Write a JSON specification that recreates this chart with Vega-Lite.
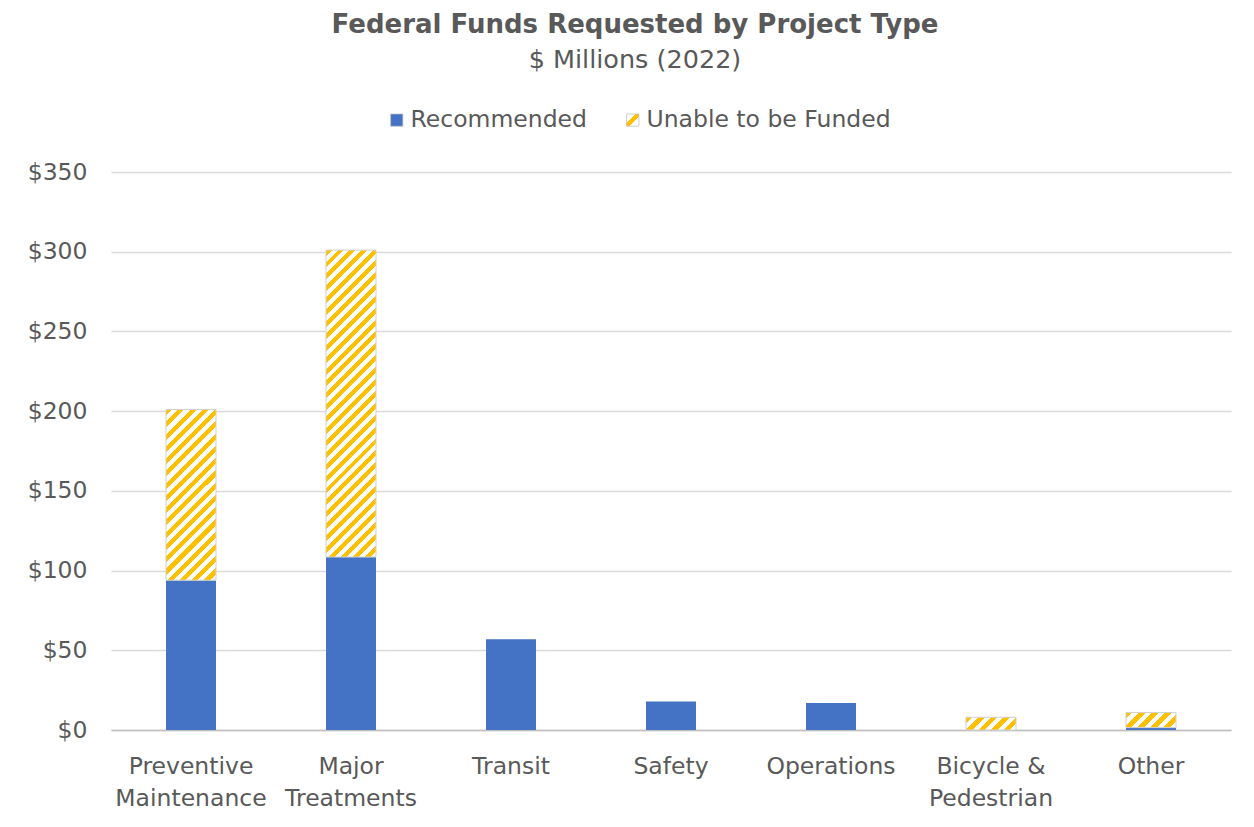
{
  "$schema": "https://vega.github.io/schema/vega-lite/v6.json",
  "width": 1120,
  "height": 558,
  "autosize": {"type": "none"},
  "padding": {"left": 111, "top": 172, "right": 23, "bottom": 97},
  "background": "white",
  "config": {"view": {"stroke": null}, "font": "DejaVu Sans"},
  "title": {
    "text": "Federal Funds Requested by Project Type",
    "subtitle": "$ Millions (2022)",
    "anchor": "middle",
    "frame": "group",
    "dx": -36,
    "offset": 35,
    "font": "DejaVu Sans",
    "fontSize": 26,
    "fontWeight": "bold",
    "color": "#595959",
    "subtitleFont": "DejaVu Sans",
    "subtitleFontSize": 25.5,
    "subtitleColor": "#595959",
    "subtitlePadding": 10
  },
  "data": {
    "values": [
      {"category": "Preventive Maintenance", "type": "Recommended", "value": 94},
      {"category": "Preventive Maintenance", "type": "Unable to be Funded", "value": 107},
      {"category": "Major Treatments", "type": "Recommended", "value": 108.5},
      {"category": "Major Treatments", "type": "Unable to be Funded", "value": 192.5},
      {"category": "Transit", "type": "Recommended", "value": 57},
      {"category": "Safety", "type": "Recommended", "value": 17.8},
      {"category": "Operations", "type": "Recommended", "value": 17},
      {"category": "Bicycle & Pedestrian", "type": "Unable to be Funded", "value": 8},
      {"category": "Other", "type": "Recommended", "value": 1.5},
      {"category": "Other", "type": "Unable to be Funded", "value": 9.5}
    ]
  },
  "transform": [
    {"stack": "value", "groupby": ["category"], "sort": [{"field": "type", "order": "ascending"}], "as": ["v0", "v1"]}
  ],
  "encoding": {
    "x": {
      "field": "category",
      "type": "nominal",
      "sort": ["Preventive Maintenance", "Major Treatments", "Transit", "Safety", "Operations", "Bicycle & Pedestrian", "Other"],
      "scale": {"paddingInner": 0.6875, "paddingOuter": 0.34375},
      "axis": {
        "title": null,
        "labelAngle": 0,
        "labelExpr": "datum.label == 'Preventive Maintenance' ? ['Preventive','Maintenance'] : datum.label == 'Major Treatments' ? ['Major','Treatments'] : datum.label == 'Bicycle & Pedestrian' ? ['Bicycle &','Pedestrian'] : datum.label",
        "labelFont": "DejaVu Sans",
        "labelFontSize": 23.5,
        "labelColor": "#595959",
        "labelPadding": 24,
        "labelLineHeight": 32,
        "labelOverlap": false,
        "labelLimit": 0,
        "ticks": false,
        "domainColor": "#BFBFBF",
        "domainWidth": 1.5
      }
    },
    "y": {
      "field": "v1",
      "type": "quantitative",
      "scale": {"domain": [0, 350], "nice": false},
      "axis": {
        "title": null,
        "values": [0, 50, 100, 150, 200, 250, 300, 350],
        "format": "$,.0f",
        "labelFont": "DejaVu Sans",
        "labelFontSize": 23.5,
        "labelColor": "#595959",
        "labelPadding": 24,
        "ticks": false,
        "domain": false,
        "gridColor": "#D9D9D9",
        "gridWidth": 1.5
      }
    },
    "y2": {"field": "v0"}
  },
  "layer": [
    {
      "mark": {"type": "bar"},
      "encoding": {
        "fill": {
          "field": "type",
          "type": "nominal",
          "scale": {
            "domain": ["Recommended", "Unable to be Funded"],
            "range": ["#4472C4", {"expr": "{gradient: 'linear', x1: 0, y1: 0, x2: 1, y2: 1, stops: [{offset: 0, color: '#FFFFFF'}, {offset: 0.38, color: '#FFFFFF'}, {offset: 0.38, color: '#FFC000'}, {offset: 0.62, color: '#FFC000'}, {offset: 0.62, color: '#FFFFFF'}, {offset: 1, color: '#FFFFFF'}]}"}]
          },
          "legend": {
            "orient": "none",
            "legendX": 274,
            "legendY": -64,
            "direction": "horizontal",
            "title": null,
            "symbolType": "square",
            "symbolSize": 150,
            "symbolStrokeColor": "#BFBFBF",
            "symbolStrokeWidth": 0.75,
            "labelFont": "DejaVu Sans",
            "labelFontSize": 23.5,
            "labelColor": "#595959",
            "labelOffset": 2,
            "labelLimit": 0,
            "columnPadding": 34
          }
        }
      }
    },
    {
      "transform": [{"filter": "datum.category == 'Preventive Maintenance' && datum.type == 'Unable to be Funded'"}],
      "mark": {"type": "bar", "stroke": "#D0D0D0", "strokeWidth": 1, "fill": {"gradient": "linear", "x1": 0, "y1": 0, "x2": 0.349, "y2": 1.191, "stops": [
        {"offset": 0, "color": "#FFC000"},
        {"offset": 0.0278, "color": "#FFC000"}, {"offset": 0.0278, "color": "#FFFFFF"},
        {"offset": 0.0556, "color": "#FFFFFF"}, {"offset": 0.0556, "color": "#FFC000"},
        {"offset": 0.0833, "color": "#FFC000"}, {"offset": 0.0833, "color": "#FFFFFF"},
        {"offset": 0.1111, "color": "#FFFFFF"}, {"offset": 0.1111, "color": "#FFC000"},
        {"offset": 0.1389, "color": "#FFC000"}, {"offset": 0.1389, "color": "#FFFFFF"},
        {"offset": 0.1667, "color": "#FFFFFF"}, {"offset": 0.1667, "color": "#FFC000"},
        {"offset": 0.1944, "color": "#FFC000"}, {"offset": 0.1944, "color": "#FFFFFF"},
        {"offset": 0.2222, "color": "#FFFFFF"}, {"offset": 0.2222, "color": "#FFC000"},
        {"offset": 0.25, "color": "#FFC000"}, {"offset": 0.25, "color": "#FFFFFF"},
        {"offset": 0.2778, "color": "#FFFFFF"}, {"offset": 0.2778, "color": "#FFC000"},
        {"offset": 0.3056, "color": "#FFC000"}, {"offset": 0.3056, "color": "#FFFFFF"},
        {"offset": 0.3333, "color": "#FFFFFF"}, {"offset": 0.3333, "color": "#FFC000"},
        {"offset": 0.3611, "color": "#FFC000"}, {"offset": 0.3611, "color": "#FFFFFF"},
        {"offset": 0.3889, "color": "#FFFFFF"}, {"offset": 0.3889, "color": "#FFC000"},
        {"offset": 0.4167, "color": "#FFC000"}, {"offset": 0.4167, "color": "#FFFFFF"},
        {"offset": 0.4444, "color": "#FFFFFF"}, {"offset": 0.4444, "color": "#FFC000"},
        {"offset": 0.4722, "color": "#FFC000"}, {"offset": 0.4722, "color": "#FFFFFF"},
        {"offset": 0.5, "color": "#FFFFFF"}, {"offset": 0.5, "color": "#FFC000"},
        {"offset": 0.5278, "color": "#FFC000"}, {"offset": 0.5278, "color": "#FFFFFF"},
        {"offset": 0.5556, "color": "#FFFFFF"}, {"offset": 0.5556, "color": "#FFC000"},
        {"offset": 0.5833, "color": "#FFC000"}, {"offset": 0.5833, "color": "#FFFFFF"},
        {"offset": 0.6111, "color": "#FFFFFF"}, {"offset": 0.6111, "color": "#FFC000"},
        {"offset": 0.6389, "color": "#FFC000"}, {"offset": 0.6389, "color": "#FFFFFF"},
        {"offset": 0.6667, "color": "#FFFFFF"}, {"offset": 0.6667, "color": "#FFC000"},
        {"offset": 0.6944, "color": "#FFC000"}, {"offset": 0.6944, "color": "#FFFFFF"},
        {"offset": 0.7222, "color": "#FFFFFF"}, {"offset": 0.7222, "color": "#FFC000"},
        {"offset": 0.75, "color": "#FFC000"}, {"offset": 0.75, "color": "#FFFFFF"},
        {"offset": 0.7778, "color": "#FFFFFF"}, {"offset": 0.7778, "color": "#FFC000"},
        {"offset": 0.8056, "color": "#FFC000"}, {"offset": 0.8056, "color": "#FFFFFF"},
        {"offset": 0.8333, "color": "#FFFFFF"}, {"offset": 0.8333, "color": "#FFC000"},
        {"offset": 0.8611, "color": "#FFC000"}, {"offset": 0.8611, "color": "#FFFFFF"},
        {"offset": 0.8889, "color": "#FFFFFF"}, {"offset": 0.8889, "color": "#FFC000"},
        {"offset": 0.9167, "color": "#FFC000"}, {"offset": 0.9167, "color": "#FFFFFF"},
        {"offset": 0.9444, "color": "#FFFFFF"}, {"offset": 0.9444, "color": "#FFC000"},
        {"offset": 0.9722, "color": "#FFC000"}, {"offset": 0.9722, "color": "#FFFFFF"},
        {"offset": 1, "color": "#FFFFFF"}]}}
    },
    {
      "transform": [{"filter": "datum.category == 'Major Treatments' && datum.type == 'Unable to be Funded'"}],
      "mark": {"type": "bar", "stroke": "#D0D0D0", "strokeWidth": 1, "fill": {"gradient": "linear", "x1": 0, "y1": 0, "x2": 0.18457, "y2": 1.13287, "stops": [
        {"offset": 0, "color": "#FFC000"},
        {"offset": 0.0167, "color": "#FFC000"}, {"offset": 0.0167, "color": "#FFFFFF"},
        {"offset": 0.0333, "color": "#FFFFFF"}, {"offset": 0.0333, "color": "#FFC000"},
        {"offset": 0.05, "color": "#FFC000"}, {"offset": 0.05, "color": "#FFFFFF"},
        {"offset": 0.0667, "color": "#FFFFFF"}, {"offset": 0.0667, "color": "#FFC000"},
        {"offset": 0.0833, "color": "#FFC000"}, {"offset": 0.0833, "color": "#FFFFFF"},
        {"offset": 0.1, "color": "#FFFFFF"}, {"offset": 0.1, "color": "#FFC000"},
        {"offset": 0.1167, "color": "#FFC000"}, {"offset": 0.1167, "color": "#FFFFFF"},
        {"offset": 0.1333, "color": "#FFFFFF"}, {"offset": 0.1333, "color": "#FFC000"},
        {"offset": 0.15, "color": "#FFC000"}, {"offset": 0.15, "color": "#FFFFFF"},
        {"offset": 0.1667, "color": "#FFFFFF"}, {"offset": 0.1667, "color": "#FFC000"},
        {"offset": 0.1833, "color": "#FFC000"}, {"offset": 0.1833, "color": "#FFFFFF"},
        {"offset": 0.2, "color": "#FFFFFF"}, {"offset": 0.2, "color": "#FFC000"},
        {"offset": 0.2167, "color": "#FFC000"}, {"offset": 0.2167, "color": "#FFFFFF"},
        {"offset": 0.2333, "color": "#FFFFFF"}, {"offset": 0.2333, "color": "#FFC000"},
        {"offset": 0.25, "color": "#FFC000"}, {"offset": 0.25, "color": "#FFFFFF"},
        {"offset": 0.2667, "color": "#FFFFFF"}, {"offset": 0.2667, "color": "#FFC000"},
        {"offset": 0.2833, "color": "#FFC000"}, {"offset": 0.2833, "color": "#FFFFFF"},
        {"offset": 0.3, "color": "#FFFFFF"}, {"offset": 0.3, "color": "#FFC000"},
        {"offset": 0.3167, "color": "#FFC000"}, {"offset": 0.3167, "color": "#FFFFFF"},
        {"offset": 0.3333, "color": "#FFFFFF"}, {"offset": 0.3333, "color": "#FFC000"},
        {"offset": 0.35, "color": "#FFC000"}, {"offset": 0.35, "color": "#FFFFFF"},
        {"offset": 0.3667, "color": "#FFFFFF"}, {"offset": 0.3667, "color": "#FFC000"},
        {"offset": 0.3833, "color": "#FFC000"}, {"offset": 0.3833, "color": "#FFFFFF"},
        {"offset": 0.4, "color": "#FFFFFF"}, {"offset": 0.4, "color": "#FFC000"},
        {"offset": 0.4167, "color": "#FFC000"}, {"offset": 0.4167, "color": "#FFFFFF"},
        {"offset": 0.4333, "color": "#FFFFFF"}, {"offset": 0.4333, "color": "#FFC000"},
        {"offset": 0.45, "color": "#FFC000"}, {"offset": 0.45, "color": "#FFFFFF"},
        {"offset": 0.4667, "color": "#FFFFFF"}, {"offset": 0.4667, "color": "#FFC000"},
        {"offset": 0.4833, "color": "#FFC000"}, {"offset": 0.4833, "color": "#FFFFFF"},
        {"offset": 0.5, "color": "#FFFFFF"}, {"offset": 0.5, "color": "#FFC000"},
        {"offset": 0.5167, "color": "#FFC000"}, {"offset": 0.5167, "color": "#FFFFFF"},
        {"offset": 0.5333, "color": "#FFFFFF"}, {"offset": 0.5333, "color": "#FFC000"},
        {"offset": 0.55, "color": "#FFC000"}, {"offset": 0.55, "color": "#FFFFFF"},
        {"offset": 0.5667, "color": "#FFFFFF"}, {"offset": 0.5667, "color": "#FFC000"},
        {"offset": 0.5833, "color": "#FFC000"}, {"offset": 0.5833, "color": "#FFFFFF"},
        {"offset": 0.6, "color": "#FFFFFF"}, {"offset": 0.6, "color": "#FFC000"},
        {"offset": 0.6167, "color": "#FFC000"}, {"offset": 0.6167, "color": "#FFFFFF"},
        {"offset": 0.6333, "color": "#FFFFFF"}, {"offset": 0.6333, "color": "#FFC000"},
        {"offset": 0.65, "color": "#FFC000"}, {"offset": 0.65, "color": "#FFFFFF"},
        {"offset": 0.6667, "color": "#FFFFFF"}, {"offset": 0.6667, "color": "#FFC000"},
        {"offset": 0.6833, "color": "#FFC000"}, {"offset": 0.6833, "color": "#FFFFFF"},
        {"offset": 0.7, "color": "#FFFFFF"}, {"offset": 0.7, "color": "#FFC000"},
        {"offset": 0.7167, "color": "#FFC000"}, {"offset": 0.7167, "color": "#FFFFFF"},
        {"offset": 0.7333, "color": "#FFFFFF"}, {"offset": 0.7333, "color": "#FFC000"},
        {"offset": 0.75, "color": "#FFC000"}, {"offset": 0.75, "color": "#FFFFFF"},
        {"offset": 0.7667, "color": "#FFFFFF"}, {"offset": 0.7667, "color": "#FFC000"},
        {"offset": 0.7833, "color": "#FFC000"}, {"offset": 0.7833, "color": "#FFFFFF"},
        {"offset": 0.8, "color": "#FFFFFF"}, {"offset": 0.8, "color": "#FFC000"},
        {"offset": 0.8167, "color": "#FFC000"}, {"offset": 0.8167, "color": "#FFFFFF"},
        {"offset": 0.8333, "color": "#FFFFFF"}, {"offset": 0.8333, "color": "#FFC000"},
        {"offset": 0.85, "color": "#FFC000"}, {"offset": 0.85, "color": "#FFFFFF"},
        {"offset": 0.8667, "color": "#FFFFFF"}, {"offset": 0.8667, "color": "#FFC000"},
        {"offset": 0.8833, "color": "#FFC000"}, {"offset": 0.8833, "color": "#FFFFFF"},
        {"offset": 0.9, "color": "#FFFFFF"}, {"offset": 0.9, "color": "#FFC000"},
        {"offset": 0.9167, "color": "#FFC000"}, {"offset": 0.9167, "color": "#FFFFFF"},
        {"offset": 0.9333, "color": "#FFFFFF"}, {"offset": 0.9333, "color": "#FFC000"},
        {"offset": 0.95, "color": "#FFC000"}, {"offset": 0.95, "color": "#FFFFFF"},
        {"offset": 0.9667, "color": "#FFFFFF"}, {"offset": 0.9667, "color": "#FFC000"},
        {"offset": 0.9833, "color": "#FFC000"}, {"offset": 0.9833, "color": "#FFFFFF"},
        {"offset": 1, "color": "#FFFFFF"}]}}
    },
    {
      "transform": [{"filter": "datum.category == 'Bicycle & Pedestrian' && datum.type == 'Unable to be Funded'"}],
      "mark": {"type": "bar", "stroke": "#D0D0D0", "strokeWidth": 1, "fill": {"gradient": "linear", "x1": 0, "y1": 0, "x2": 1.1784, "y2": 0.3006, "stops": [
        {"offset": 0, "color": "#FFC000"},
        {"offset": 0.1, "color": "#FFC000"}, {"offset": 0.1, "color": "#FFFFFF"},
        {"offset": 0.2, "color": "#FFFFFF"}, {"offset": 0.2, "color": "#FFC000"},
        {"offset": 0.3, "color": "#FFC000"}, {"offset": 0.3, "color": "#FFFFFF"},
        {"offset": 0.4, "color": "#FFFFFF"}, {"offset": 0.4, "color": "#FFC000"},
        {"offset": 0.5, "color": "#FFC000"}, {"offset": 0.5, "color": "#FFFFFF"},
        {"offset": 0.6, "color": "#FFFFFF"}, {"offset": 0.6, "color": "#FFC000"},
        {"offset": 0.7, "color": "#FFC000"}, {"offset": 0.7, "color": "#FFFFFF"},
        {"offset": 0.8, "color": "#FFFFFF"}, {"offset": 0.8, "color": "#FFC000"},
        {"offset": 0.9, "color": "#FFC000"}, {"offset": 0.9, "color": "#FFFFFF"},
        {"offset": 1, "color": "#FFFFFF"}]}}
    },
    {
      "transform": [{"filter": "datum.category == 'Other' && datum.type == 'Unable to be Funded'"}],
      "mark": {"type": "bar", "stroke": "#D0D0D0", "strokeWidth": 1, "fill": {"gradient": "linear", "x1": 0, "y1": 0, "x2": 1.1934, "y2": 0.3615, "stops": [
        {"offset": 0, "color": "#FFC000"},
        {"offset": 0.1, "color": "#FFC000"}, {"offset": 0.1, "color": "#FFFFFF"},
        {"offset": 0.2, "color": "#FFFFFF"}, {"offset": 0.2, "color": "#FFC000"},
        {"offset": 0.3, "color": "#FFC000"}, {"offset": 0.3, "color": "#FFFFFF"},
        {"offset": 0.4, "color": "#FFFFFF"}, {"offset": 0.4, "color": "#FFC000"},
        {"offset": 0.5, "color": "#FFC000"}, {"offset": 0.5, "color": "#FFFFFF"},
        {"offset": 0.6, "color": "#FFFFFF"}, {"offset": 0.6, "color": "#FFC000"},
        {"offset": 0.7, "color": "#FFC000"}, {"offset": 0.7, "color": "#FFFFFF"},
        {"offset": 0.8, "color": "#FFFFFF"}, {"offset": 0.8, "color": "#FFC000"},
        {"offset": 0.9, "color": "#FFC000"}, {"offset": 0.9, "color": "#FFFFFF"},
        {"offset": 1, "color": "#FFFFFF"}]}}
    }
  ]
}
